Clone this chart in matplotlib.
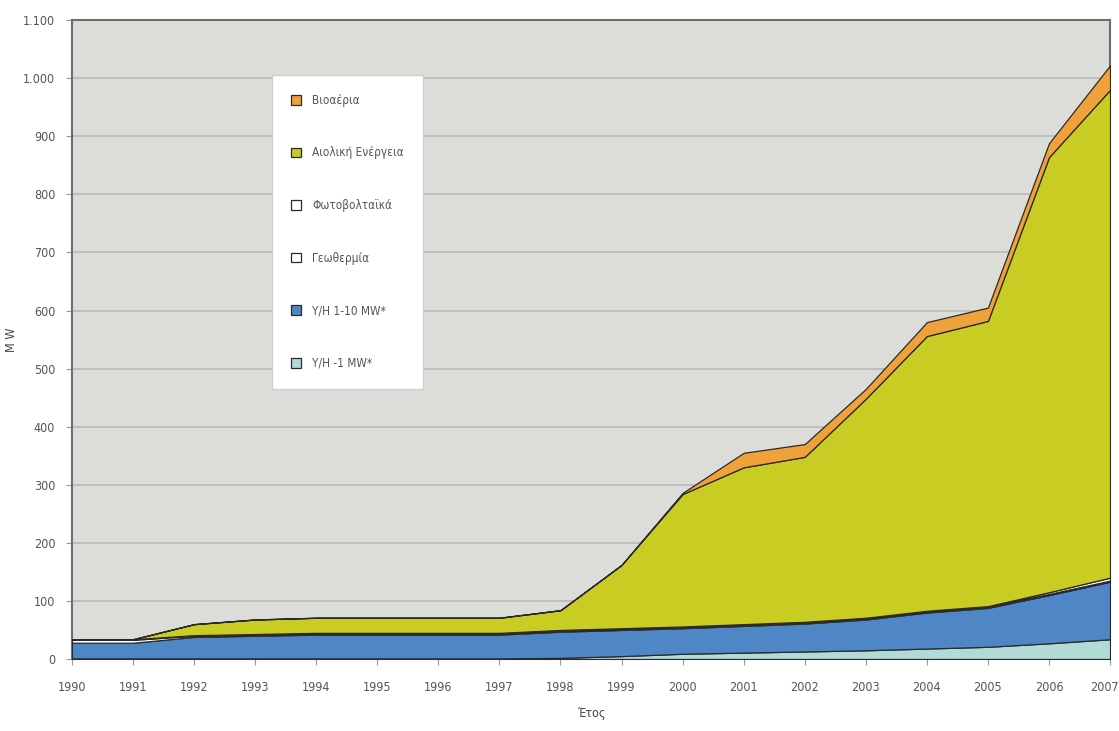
import matplotlib
matplotlib.use("Agg")
import matplotlib.pyplot as plt
from matplotlib.ticker import FuncFormatter
import matplotlib.transforms as mtransforms

plt.rcParams['font.family'] = ['DejaVu Sans']
plt.rcParams['font.stretch'] = 'condensed'

years = list(range(1990, 2008))

# MW ανά κατηγορία (στοιβαγμένα, από κάτω προς τα πάνω)
yh_small = [1, 1, 1, 1, 1, 1, 1, 1, 2, 5, 9, 11, 13, 15, 18, 21, 27, 34]
yh_mid = [27, 27, 37, 39, 41, 41, 41, 41, 45, 45, 44, 46, 48, 53, 62, 67, 83, 99]
geo = [5, 5, 2, 2, 2, 2, 2, 2, 2, 2, 2, 2, 2, 2, 2, 2, 2, 2]
pv = [1, 1, 1, 1, 1, 1, 1, 1, 1, 1, 1, 1, 1, 1, 1, 1, 3, 5]
wind = [0, 0, 19, 25, 26, 26, 26, 26, 34, 109, 228, 270, 284, 377, 473, 491, 749, 840]
bio = [0, 0, 0, 0, 0, 0, 0, 0, 0, 0, 2, 25, 22, 17, 24, 23, 24, 42]

labels = ['Υ/Η -1 MW*', 'Υ/Η 1-10 MW*', 'Γεωθερμία', 'Φωτοβολταϊκά',
          'Αιολική Ενέργεια', 'Βιοαέρια']
colors = ['#b2dad7', '#4f86c6', '#ffffff', '#ffffff', '#c9cc22', '#f0a23a']

fig = plt.figure(figsize=(11.19, 7.31), dpi=100)
ax = fig.add_axes([0.0643, 0.0985, 0.9277, 0.874])
ax.set_facecolor('#dcdcd9')

ax.stackplot(years, yh_small, yh_mid, geo, pv, wind, bio,
             labels=labels, colors=colors,
             edgecolor='#2a2a2a', linewidth=0.9, zorder=3)

ax.set_xlim(1990, 2007)
ax.set_ylim(0, 1100)
ax.set_yticks(range(0, 1101, 100))
ax.set_xticks(years)
ax.yaxis.set_major_formatter(FuncFormatter(lambda v, p: f'{int(v):,}'.replace(',', '.')))
ax.grid(axis='y', color='#b8b8b6', linewidth=1.2, zorder=1)
ax.tick_params(axis='both', labelsize=9, colors='#9a9a9a', labelcolor='#555555', length=4)
ax.tick_params(axis='x', pad=12)
ax.tick_params(axis='y', pad=8)

# το τελευταίο έτος λίγο προς τα αριστερά ώστε να χωρά
last = ax.get_xticklabels()[-1]
last.set_horizontalalignment('right')
last.set_transform(last.get_transform() + mtransforms.ScaledTranslation(9 / 100, 0, fig.dpi_scale_trans))

for side in ['left', 'top', 'right', 'bottom']:
    ax.spines[side].set_color('#6e6e6e')
    ax.spines[side].set_linewidth(1.5)

ax.set_ylabel('M W', fontsize=9, color='#444444')
ax.yaxis.set_label_coords(-0.052, 0.5)
ax.set_xlabel('Έτος', fontsize=9, color='#444444', labelpad=9)

handles, labs = ax.get_legend_handles_labels()
leg = ax.legend(handles[::-1], labs[::-1], loc='upper left',
                bbox_to_anchor=(0.193, 0.914), fontsize=8.5,
                labelspacing=3.35, handlelength=0.8, handleheight=0.9,
                borderpad=1.6, handletextpad=1.0, fancybox=False,
                framealpha=1, edgecolor='#cfcfcf', borderaxespad=0)
for t in leg.get_texts():
    t.set_color('#555555')
leg.set_zorder(5)

fig.savefig('out.png', dpi=100)
